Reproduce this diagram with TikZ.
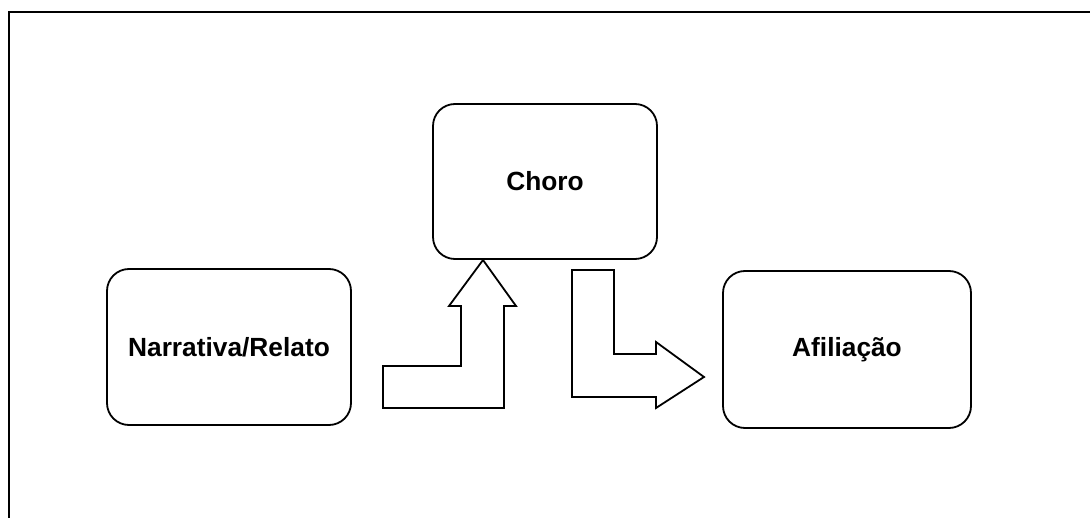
\documentclass[tikz,border=0pt]{standalone}
\usepackage{fontspec}
\setmainfont{Liberation Sans}
\begin{document}
\begin{tikzpicture}[x=1pt,y=-1pt,
  boxnode/.style={draw=black, line width=1.8pt, rounded corners=22pt, fill=white,
    font=\fontsize{26.3}{31}\selectfont\bfseries, inner sep=0pt},
  blockarrow/.style={draw=black, line width=1.8pt, fill=white, line join=miter},
  framestyle/.style={draw=black, line width=1.8pt}]
\useasboundingbox (0,0) rectangle (1090,518);
% frame
\coordinate (fbl) at (9,518);
\coordinate (ftl) at (9,12);
\coordinate (ftr) at (1090,12);
\draw[framestyle] (fbl) -- (ftl) -- (ftr);
% boxes
\node[boxnode, minimum width=224pt, minimum height=155pt] (choro) at (545,181.5) {Choro};
\node[boxnode, minimum width=244pt, minimum height=156pt] (narr) at (229,347) {Narrativa/Relato};
\node[boxnode, minimum width=248pt, minimum height=157pt] (afil) at (847,349.5) {Afiliação};
% up block arrow from Narrativa to Choro
\draw[blockarrow] (383,408) -- (504,408) -- (504,306) -- (516,306) -- (483,260) -- (449,306) -- (461,306) -- (461,366) -- (383,366) -- cycle;
% right block arrow from Choro to Afiliacao
\draw[blockarrow] (572,270) -- (614,270) -- (614,354) -- (656,354) -- (656,342) -- (704,377) -- (656,408) -- (656,397) -- (572,397) -- cycle;
\end{tikzpicture}
\end{document}
